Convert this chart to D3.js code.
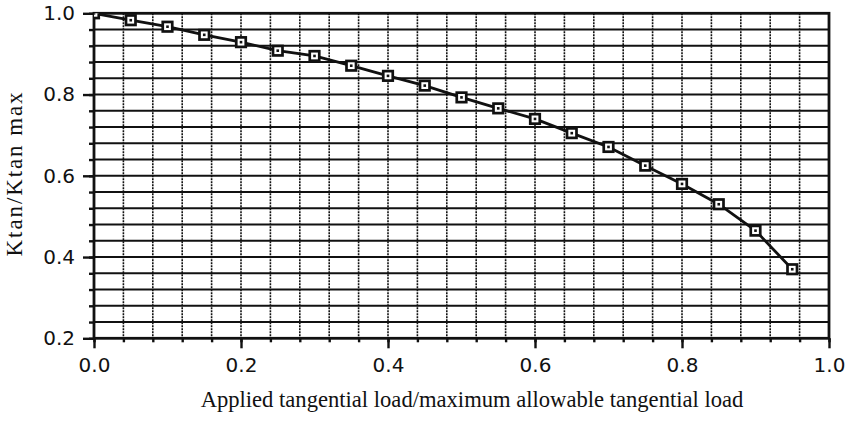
<!DOCTYPE html>
<html>
<head>
<meta charset="utf-8">
<script src="https://cdn.jsdelivr.net/npm/d3@7/dist/d3.min.js"></script>
<style>
  html, body { margin: 0; padding: 0; background: #fff; }
  svg { display: block; }
</style>
</head>
<body>
<svg id="chart" width="858" height="422"></svg>
<script>
// ---- data ----
const loadRatio = [0, 0.05, 0.10, 0.15, 0.20, 0.25, 0.30, 0.35, 0.40, 0.45,
                   0.50, 0.55, 0.60, 0.65, 0.70, 0.75, 0.80, 0.85, 0.90, 0.95];
const ktanRatio = [1.000, 0.983, 0.967, 0.947, 0.929, 0.908, 0.895, 0.871, 0.846, 0.822,
                   0.793, 0.766, 0.740, 0.705, 0.671, 0.625, 0.580, 0.530, 0.465, 0.370];
const xTickLabels = ["0.0", "0.2", "0.4", "0.6", "0.8", "1.0"];
const yTickLabels = ["0.2", "0.4", "0.6", "0.8", "1.0"];
const xTitle = "Applied tangential load/maximum allowable tangential load";
const yTitle = "Ktan/Ktan max";

// ---- layout ----
const svg = d3.select("#chart");
const L = 94, R = 829, T = 13.3, B = 338.3;
const x = d3.scaleLinear().domain([0, 1]).range([L, R]);
const y = d3.scaleLinear().domain([0.2, 1]).range([B, T]);
const ink = "#111";

const minorX = d3.range(0, 26).map(i => i * 0.04);
const minorY = d3.range(0, 21).map(i => 0.2 + i * 0.04);

// grid
const grid = svg.append("g");
grid.selectAll("line.v").data(minorX.slice(1, -1)).join("line")
  .attr("x1", d => x(d)).attr("x2", d => x(d))
  .attr("y1", T).attr("y2", B)
  .attr("stroke", ink).attr("stroke-width", 1.6).attr("stroke-dasharray", "2,1");
grid.selectAll("line.h").data(minorY.slice(1, -1)).join("line")
  .attr("x1", L).attr("x2", R)
  .attr("y1", d => y(d)).attr("y2", d => y(d))
  .attr("stroke", ink).attr("stroke-width", 2);

// axes with d3 axis generators
const fontTick = "'DejaVu Sans', Verdana, sans-serif";
const xMinorAxis = d3.axisBottom(x).tickValues(minorX).tickSize(4).tickFormat("");
const xMajorAxis = d3.axisBottom(x).tickValues(xTickLabels.map(Number)).tickSize(10).tickPadding(10)
  .tickFormat((d, i) => xTickLabels[i]);
const yMinorAxis = d3.axisLeft(y).tickValues(minorY).tickSize(5).tickFormat("");
const yMajorAxis = d3.axisLeft(y).tickValues(yTickLabels.map(Number)).tickSize(11).tickPadding(8)
  .tickFormat((d, i) => yTickLabels[i]);

function styleAxis(g) {
  g.select(".domain").remove();
  g.selectAll(".tick line").attr("stroke", ink).attr("stroke-width", 2.4);
  g.selectAll(".tick text").attr("fill", ink).style("font-family", fontTick).style("font-size", "20px");
}
svg.append("g").attr("transform", `translate(0,${B})`).call(xMinorAxis).call(styleAxis);
svg.append("g").attr("transform", `translate(0,${B})`).call(xMajorAxis).call(styleAxis);
svg.append("g").attr("transform", `translate(${L},0)`).call(yMinorAxis).call(styleAxis);
svg.append("g").attr("transform", `translate(${L},0)`).call(yMajorAxis).call(styleAxis);

// frame
svg.append("rect").attr("x", L).attr("y", T).attr("width", R - L).attr("height", B - T)
  .attr("fill", "none").attr("stroke", ink).attr("stroke-width", 2.8);

// clip
svg.append("clipPath").attr("id", "plotClip").append("rect")
  .attr("x", L).attr("y", T).attr("width", R - L).attr("height", B - T);

// series line
const pts = loadRatio.map((v, i) => [v, ktanRatio[i]]);
svg.append("path").datum(pts)
  .attr("d", d3.line().x(d => x(d[0])).y(d => y(d[1])))
  .attr("fill", "none").attr("stroke", ink).attr("stroke-width", 2.8);

// markers
const mk = svg.append("g").attr("clip-path", "url(#plotClip)");
const ms = 9.5;
mk.selectAll("rect.m").data(pts).join("rect")
  .attr("x", d => x(d[0]) - ms / 2).attr("y", d => y(d[1]) - ms / 2)
  .attr("width", ms).attr("height", ms)
  .attr("fill", "#fff").attr("stroke", ink).attr("stroke-width", 2.7);
mk.selectAll("rect.d").data(pts).join("rect")
  .attr("x", d => x(d[0]) - 1.3).attr("y", d => y(d[1]) - 1.3)
  .attr("width", 2.6).attr("height", 2.6).attr("fill", ink);

// titles
const fontTitle = "'Liberation Serif', 'Times New Roman', serif";
svg.append("text")
  .attr("x", 472).attr("y", 407)
  .attr("text-anchor", "middle")
  .style("font-family", fontTitle).style("font-size", "22.6px").attr("fill", ink)
  .text(xTitle);
svg.append("text")
  .attr("transform", `translate(22,173.5) rotate(-90)`)
  .attr("text-anchor", "middle")
  .style("font-family", fontTitle).style("font-size", "23px")
  .style("letter-spacing", "1.9px").attr("fill", ink)
  .text(yTitle);
</script>
</body>
</html>
